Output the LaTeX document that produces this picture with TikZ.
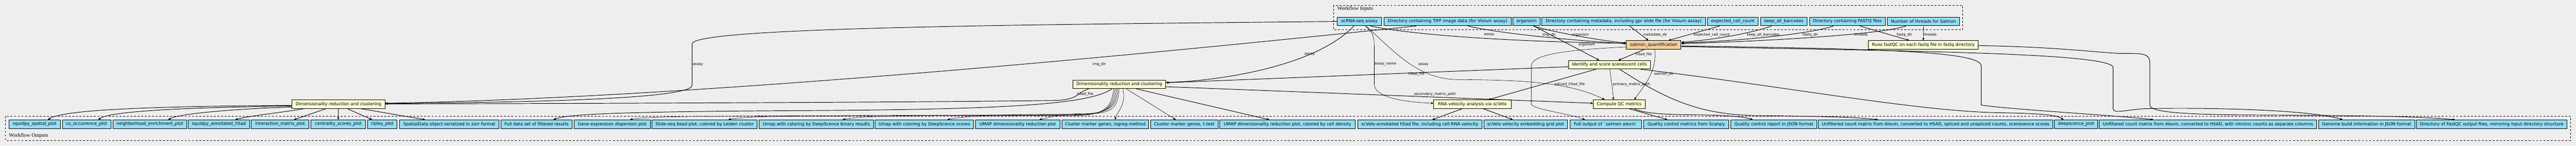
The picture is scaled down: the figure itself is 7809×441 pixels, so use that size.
\documentclass[tikz,border=0pt]{standalone}
\usepackage{fontspec}
\setmainfont{DejaVu Sans}
\newfontfamily\clusterfont{Liberation Serif}
\usetikzlibrary{arrows.meta}
\definecolor{bgc}{HTML}{EEEEEE}
\definecolor{portc}{HTML}{94DDF4}
\definecolor{taskc}{HTML}{FAFAD2}
\definecolor{salmonc}{HTML}{F3CEA1}

\begin{document}
\begin{tikzpicture}[x=1pt, y=-1pt,
	port/.style={draw, line width=1.4pt, fill=portc, minimum height=26pt, inner xsep=0pt, inner ysep=0pt, font=\fontsize{13}{15}\selectfont},
	task/.style={port, fill=taskc},
	lbl/.style={inner sep=0pt, font=\fontsize{10.8}{12}\selectfont},
	conn/.style={line width=1.5pt, -{Triangle[length=7pt,width=6pt]}},
	thinconn/.style={conn, line width=0.9pt},
	cluster/.style={draw, line width=1.3pt, dash pattern=on 6pt off 5pt},
	clab/.style={inner sep=0pt, font=\clusterfont\fontsize{16}{18}\selectfont}]

	\useasboundingbox (0,0) rectangle (7809,441);
	\fill[bgc] (0,0) rectangle (7809,441);

	\draw[cluster] (4042,15.7) rectangle (5950,89);
	\node[clab, anchor=base west] (tin) at (4054,31) {Workflow Inputs};
	\draw[cluster] (17,352) rectangle (7792,425);
	\node[clab, anchor=base west] (tout) at (27,415) {Workflow Outputs};

	\node[port, minimum width=134] (assay) at (4121,65) {scRNA-seq assay};
	\node[port, minimum width=386] (img) at (4388,65) {Directory containing TIFF image data (for Visium assay)};
	\node[port, minimum width=83] (org) at (4627.5,65) {organism};
	\node[port, minimum width=496] (meta) at (4922,65) {Directory containing metadata, including gpr slide file (for Visium assay)};
	\node[port, minimum width=154] (ecc) at (5253,65) {expected\_cell\_count};
	\node[port, minimum width=141] (kab) at (5407.5,65) {keep\_all\_barcodes};
	\node[port, minimum width=230] (fq) at (5600,65) {Directory containing FASTQ files};
	\node[port, minimum width=218] (thr) at (5831,65) {Number of threads for Salmon};

	\node[task, fill=salmonc, minimum width=166] (salmon) at (5013,136) {salmon\_quantification};
	\node[task, minimum width=333] (fastqc) at (5830.5,136) {Runs fastQC on each fastq file in fastq directory};
	\node[task, minimum width=248] (ident) at (4879,196) {Identify and score scenescent cells};
	\node[task, minimum width=282] (dimB) at (3393,255.5) {Dimensionality reduction and clustering};
	\node[task, minimum width=282] (dimA) at (1026,315.5) {Dimensionality reduction and clustering};
	\node[task, minimum width=235] (velo) at (4463.5,315.5) {RNA velocity analysis via scVelo};
	\node[task, minimum width=157] (qc) at (4908.5,315.5) {Compute QC metrics};

	\node[port, minimum width=156] (o1) at (105,376) {squidpy\_spatial\_plot};
	\node[port, minimum width=147] (o2) at (262.5,376) {co\_occurrence\_plot};
	\node[port, minimum width=224] (o3) at (454,376) {neighborhood\_enrichment\_plot};
	\node[port, minimum width=185] (o4) at (663.5,376) {squidpy\_annotated\_h5ad};
	\node[port, minimum width=174] (o5) at (849,376) {interaction\_matrix\_plot};
	\node[port, minimum width=165] (o6) at (1025.5,376) {centrality\_scores\_plot};
	\node[port, minimum width=90] (o7) at (1159,376) {ripley\_plot};
	\node[port, minimum width=302] (o8) at (1362,376) {SpatialData object serialized in zarr format};
	\node[port, minimum width=217] (o9) at (1626.5,376) {Full data set of filtered results};
	\node[port, minimum width=232] (o10) at (1856,376) {Gene expression dispersion plot};
	\node[port, minimum width=318] (o11) at (2136,376) {Slide-seq bead plot, colored by Leiden cluster};
	\node[port, minimum width=347] (o12) at (2474.5,376) {Umap with coloring by DeepScence binary results};
	\node[port, minimum width=298] (o13) at (2802,376) {Umap with coloring by DeepScence scores};
	\node[port, minimum width=256] (o14) at (3085,376) {UMAP dimensionality reduction plot};
	\node[port, minimum width=263] (o15) at (3350.5,376) {Cluster marker genes, logreg method};
	\node[port, minimum width=204] (o16) at (3590,376) {Cluster marker genes, t-test};
	\node[port, minimum width=410] (o17) at (3903,376) {UMAP dimensionality reduction plot, colored by cell density};
	\node[port, minimum width=376] (o18) at (4304,376) {scVelo-annotated h5ad file, including cell RNA velocity};
	\node[port, minimum width=254] (o19) at (4625,376) {scVelo velocity embedding grid plot};
	\node[port, minimum width=218] (o20) at (4868,376) {Full output of \textasciigrave salmon alevin\textasciigrave};
	\node[port, minimum width=257] (o21) at (5111.5,376) {Quality control metrics from Scanpy};
	\node[port, minimum width=261] (o22) at (5377.5,376) {Quality control report in JSON format};
	\node[port, minimum width=710] (o23) at (5868,376) {Unfiltered count matrix from Alevin, converted to H5AD, spliced and unspliced counts, scenesence scores};
	\node[port, minimum width=131] (o24) at (6293.5,376) {deepscence\_plot};
	\node[port, minimum width=658] (o25) at (6693,376) {Unfiltered count matrix from Alevin, converted to H5AD, with intronic counts as separate columns};
	\node[port, minimum width=293] (o26) at (7174.5,376) {Genome build information in JSON format};
	\node[port, minimum width=455] (o27) at (7553.5,376) {Directory of FastQC output files, mirroring input directory structure};

	\draw[conn] ([xshift=33]assay.south) .. controls (4300,110) and (4650,128) .. ([yshift=5]salmon.west);
	\draw[conn] ([xshift=62]img.south) .. controls (4560,105) and (4820,126) .. ([yshift=4]salmon.west);
	\draw[conn] ([xshift=20]org.south) .. controls (4720,100) and (4860,124) .. ([yshift=6]salmon.west);
	\draw[conn] ([xshift=22]org.south) -- ([xshift=-31]ident.north);
	\draw[conn] ([xshift=18]meta.south) -- ([xshift=-16]salmon.north);
	\draw[conn] ([xshift=-40]ecc.south) -- ([xshift=45]salmon.north);
	\draw[conn] ([xshift=-37]kab.south) .. controls (5310,100) and (5200,120) .. ([yshift=8]salmon.east);
	\draw[conn] ([xshift=-42]fq.south) .. controls (5480,105) and (5250,125) .. ([yshift=6]salmon.east);
	\draw[conn] ([xshift=-53]thr.south) .. controls (5700,105) and (5350,125) .. ([yshift=4]salmon.east);
	\draw[conn] ([xshift=38]fq.south) -- ([xshift=-43]fastqc.north);
	\draw[thinconn] (thr.south) -- (fastqc.north);

	\draw[conn] (assay.west) .. controls (3000,75) and (2098,85) .. (2098,133) -- (2098,258) .. controls (2098,300) and (1600,310) .. ([yshift=2]dimA.east);
	\draw[conn] ([xshift=-95]img.south) .. controls (3700,140) and (2200,295) .. ([yshift=3]dimA.east);
	\draw[conn] ([xshift=-93]dimB.south) .. controls (3265,280) and (3270,302) .. (3200,304) .. controls (2800,310) and (1600,314) .. ([yshift=1]dimA.east);
	\draw[conn] ([xshift=-17]assay.south) .. controls (3990,200) and (3700,245) .. ([yshift=6]dimB.east);
	\draw[conn] ([yshift=-6]ident.west) -- ([yshift=5]dimB.east);
	\draw[conn] ([yshift=-7]dimB.east) -- ([yshift=3]qc.west);
	\draw[thinconn] ([xshift=17]assay.south) .. controls (4160,95) and (4166,110) .. (4166,140) -- (4166,255) .. controls (4166,300) and (4280,310) .. ([yshift=3]velo.west);
	\draw[thinconn] ([xshift=20]assay.south) .. controls (4230,160) and (4300,240) .. (4420,241) .. controls (4620,242) and (4760,250) .. ([xshift=-44]qc.north);

	\draw[conn] ([xshift=-28]salmon.south) -- ([xshift=27]ident.north);
	\draw[thinconn] ([xshift=3]salmon.south) .. controls (5025,220) and (4975,270) .. ([xshift=46]qc.north);
	\draw[thinconn] ([xshift=1]ident.south) .. controls (4885,250) and (4890,280) .. ([xshift=-18]qc.north);
	\draw[conn] ([xshift=-41]ident.south) -- ([xshift=48]velo.north);

	\draw[thinconn] ([yshift=-6]salmon.west) .. controls (4780,150) and (4642,160) .. (4642,200) -- (4642,315) .. controls (4642,330) and (4760,345) .. ([xshift=-63]o20.north);
	\draw[conn] ([yshift=-3]salmon.east) .. controls (5700,148) and (6006,155) .. (6006,200) -- (6006,318) .. controls (6100,332) and (6400,348) .. ([xshift=-165]o25.north);
	\draw[conn] ([yshift=-5]salmon.east) .. controls (5800,155) and (6406,160) .. (6406,205) -- (6406,330) .. controls (6406,345) and (6450,332) .. (6500,329) .. controls (6700,325) and (7000,332) .. ([xshift=-73]o26.north);
	\draw[conn] ([yshift=-2]fastqc.east) .. controls (6250,142) and (6380,162) .. (6440,162) .. controls (6490,162) and (6517,160) .. (6517,190) -- (6517,318) .. controls (6517,338) and (6600,346) .. (6800,348) .. controls (7100,350) and (7300,350) .. ([xshift=-111]o27.north);
	\draw[conn] ([xshift=95]ident.south) .. controls (5400,260) and (5800,335) .. (6050,341) .. controls (6150,343) and (6230,345) .. ([xshift=-38]o24.north);
	\draw[conn] ([xshift=31]ident.south) .. controls (5050,300) and (5150,348) .. (5330,350) .. controls (5500,352) and (5620,354) .. ([xshift=-175]o23.north);

	\draw[conn] ([xshift=-31]velo.south) -- ([xshift=38]o18.north);
	\draw[conn] ([xshift=33]velo.south) -- ([xshift=-39]o19.north);
	\draw[conn] ([xshift=30]qc.south) -- ([xshift=-57]o21.north);
	\draw[conn] ([xshift=45]qc.south) .. controls (5000,350) and (5100,346) .. (5200,349) .. controls (5260,351) and (5290,355) .. ([xshift=-64]o22.north);

	\draw[conn] ([xshift=-23]dimB.south) .. controls (3300,320) and (3000,332) .. (2400,335) .. controls (1900,338) and (1720,345) .. ([xshift=51]o9.north);
	\draw[thinconn] ([xshift=-17]dimB.south) .. controls (3370,325) and (3350,350) .. (3250,350) .. controls (2300,350) and (1960,350) .. ([xshift=54]o10.north);
	\draw[thinconn] ([xshift=-13]dimB.south) .. controls (3375,325) and (3355,349) .. (3250,349) .. controls (2500,349) and (2260,350) .. ([xshift=72]o11.north);
	\draw[thinconn] ([xshift=-9]dimB.south) .. controls (3380,325) and (3360,348) .. (3250,348) .. controls (2800,348) and (2610,350) .. ([xshift=80]o12.north);
	\draw[thinconn] ([xshift=-5]dimB.south) .. controls (3385,325) and (3365,346) .. (3250,346) .. controls (3050,346) and (2930,350) .. ([xshift=70]o13.north);
	\draw[thinconn] ([xshift=-1]dimB.south) .. controls (3390,325) and (3370,344) .. (3300,344) .. controls (3230,344) and (3200,350) .. ([xshift=66]o14.north);
	\draw[thinconn] ([xshift=11]dimB.south) .. controls (3415,320) and (3385,340) .. ([xshift=30]o15.north);
	\draw[thinconn] ([xshift=22]dimB.south) -- ([xshift=-26]o16.north);
	\draw[conn] ([xshift=52]dimB.south) -- ([xshift=-55]o17.north);

	\draw[conn] ([yshift=-3.5]dimA.west) .. controls (400,322) and (190,335) .. ([xshift=40]o1.north);
	\draw[conn] ([yshift=-5.5]dimA.west) .. controls (500,326) and (330,340) .. ([xshift=35.5]o2.north);
	\draw[conn] ([yshift=-8.5]dimA.west) .. controls (700,330) and (540,345) .. ([xshift=56]o3.north);
	\draw[conn] ([xshift=-106]dimA.south) .. controls (860,340) and (760,350) .. ([xshift=49.5]o4.north);
	\draw[conn] ([xshift=-38]dimA.south) -- ([xshift=42]o5.north);
	\draw[conn] (dimA.south) -- (o6.north);
	\draw[conn] ([xshift=27]dimA.south) -- ([xshift=-31]o7.north);
	\draw[conn] ([xshift=69]dimA.south) -- ([xshift=-73]o8.north);

	\node[lbl, anchor=west] (la1) at (2100,195) {assay};
	\node[lbl] (li1) at (3332,195) {img\_dir};
	\node[lbl] (lh1) at (3290,285) {h5ad\_file};
	\node[lbl] (la2) at (3970,165) {assay};
	\node[lbl] (lh2) at (4294,225) {h5ad\_file};
	\node[lbl] (lsec) at (4350,285) {secondary\_matrix\_path};
	\node[lbl] (lan) at (4199,195) {assay\_name};
	\node[lbl] (la3) at (4315,195) {assay};
	\node[lbl] (la4) at (4514,105) {assay};
	\node[lbl] (li2) at (4696,105) {img\_dir};
	\node[lbl] (lo1) at (4791,105) {organism};
	\node[lbl] (lo2) at (4810,135) {organism};
	\node[lbl] (lmd) at (5018,105) {metadata\_dir};
	\node[lbl] (lecc) at (5189,105) {expected\_cell\_count};
	\node[lbl] (lkab) at (5345,105) {keep\_all\_barcodes};
	\node[lbl] (lf1) at (5488,105) {fastq\_dir};
	\node[lbl] (lt1) at (5641,105) {threads};
	\node[lbl] (lf2) at (5773,105) {fastq\_dir};
	\node[lbl] (lt2) at (5850,105) {threads};
	\node[lbl] (lh3) at (4983,165) {h5ad\_file};
	\node[lbl] (lsd) at (5044,225) {salmon\_dir};
	\node[lbl] (lpm) at (4946,255) {primary\_matrix\_path};
	\node[lbl] (lsp) at (4758,255) {spliced\_h5ad\_file};

\end{tikzpicture}
\end{document}
